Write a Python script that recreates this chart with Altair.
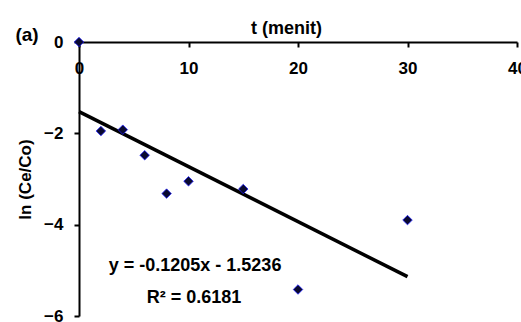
import altair as alt
import pandas as pd

# data
t_values = [0, 2, 4, 6, 8, 10, 15, 20, 30]
ln_values = [0, -1.95, -1.92, -2.48, -3.32, -3.05, -3.22, -5.42, -3.9]

trend_t = [0, 30]
trend_ln = [-1.5236, -5.1386]

x_ticks = [0, 10, 20, 30, 40]
y_ticks = [0, -2, -4, -6]

eq_text = ["y = -0.1205x - 1.5236", "R\u00b2 = 0.6181"]
eq_x = [10.6, 10.5]
eq_y = [-4.9, -5.6]

FONT = "Liberation Sans"

pts = pd.DataFrame({"t": t_values, "ln": ln_values})
trend = pd.DataFrame({"t": trend_t, "ln": trend_ln})
eq = pd.DataFrame({"label": eq_text, "t": eq_x, "ln": eq_y})

W, H = 438, 274

xscale = alt.Scale(domain=[0, 40], nice=False)
yscale = alt.Scale(domain=[-6, 0], nice=False)

xaxis = alt.Axis(
    orient="bottom", offset=-H, values=x_ticks, grid=False,
    domainColor="black", domainWidth=2, tickColor="black", tickWidth=2, tickSize=5,
    labelFont=FONT, labelFontSize=17, labelFontWeight="bold", labelColor="black",
    labelPadding=13, labelFlush=False,
    title="t (menit)", titleFont=FONT, titleFontSize=18, titleFontWeight="bold",
    titleColor="black", titleX=207, titleY=-5, titleBaseline="bottom", titleAlign="center",
)
yaxis = alt.Axis(
    orient="left", values=y_ticks, grid=False,
    domainColor="black", domainWidth=2, tickColor="black", tickWidth=2, tickSize=5,
    labelFont=FONT, labelFontSize=17, labelFontWeight="bold", labelColor="black",
    labelPadding=11,
    title="ln (Ce/Co)", titleFont=FONT, titleFontSize=17, titleFontWeight="bold",
    titleColor="black", titlePadding=9,
)

line = alt.Chart(trend).mark_line(color="black", strokeWidth=3.5).encode(
    x=alt.X("t:Q", scale=xscale, axis=xaxis),
    y=alt.Y("ln:Q", scale=yscale, axis=yaxis),
)

points = alt.Chart(pts).mark_point(
    shape="diamond", filled=True, size=90, fill="#0a0a30",
    stroke="#2020ff", strokeWidth=0.8, opacity=1,
).encode(x=alt.X("t:Q", scale=xscale), y=alt.Y("ln:Q", scale=yscale))

eq_marks = alt.Chart(eq).mark_text(
    font=FONT, fontSize=18, fontWeight="bold", color="black", align="center", baseline="middle"
).encode(x=alt.X("t:Q", scale=xscale), y=alt.Y("ln:Q", scale=yscale), text="label:N")

panel = alt.Chart(pd.DataFrame({"label": ["(a)"]})).mark_text(
    font=FONT, fontSize=19, fontWeight="bold", color="black", align="center", baseline="middle"
).encode(x=alt.value(-52), y=alt.value(-7), text="label:N")

chart = alt.layer(line, points, eq_marks, panel).properties(
    width=W, height=H,
    padding={"left": 79, "top": 42, "right": 4, "bottom": 6},
    autosize=alt.AutoSizeParams(type="none"),
    background="white",
).configure_view(stroke=None)

chart.save("out.html", embed_options={"renderer": "svg", "actions": False})
